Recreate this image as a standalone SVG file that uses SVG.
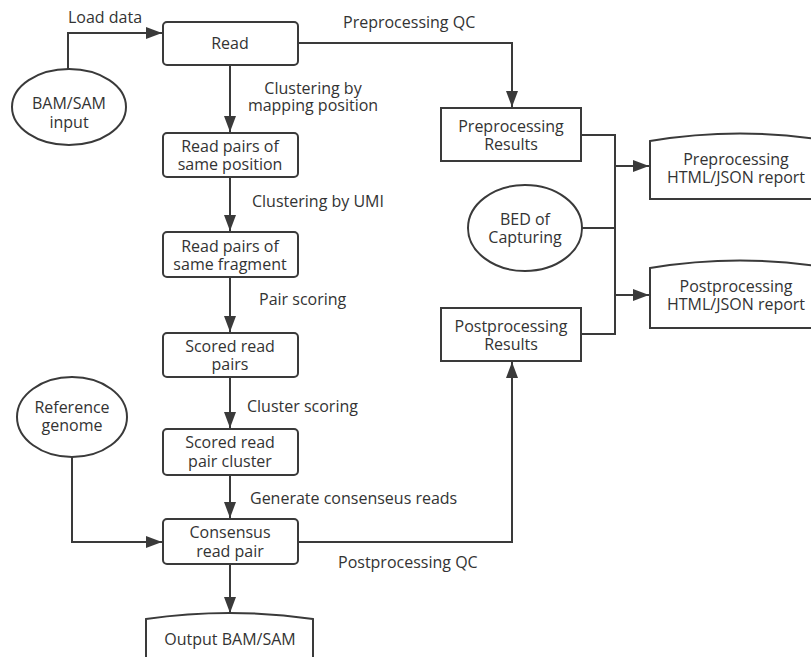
<svg xmlns="http://www.w3.org/2000/svg" width="811" height="657" viewBox="0 0 811 657">
  <defs>
    <style>
      .box { fill: #ffffff; stroke: #3a3a3a; stroke-width: 2; }
      .line { fill: none; stroke: #3a3a3a; stroke-width: 2; }
      .arrow { marker-end: url(#head); }
      text { font-family: "Open Sans", "Noto Sans", "Liberation Sans", sans-serif; font-size: 16px; fill: #333333; }
      .c { text-anchor: middle; }
    </style>
    <marker id="head" markerUnits="userSpaceOnUse" markerWidth="17" markerHeight="12" refX="16" refY="6" orient="auto">
      <path d="M0,0 L16,6 L0,12 z" fill="#3a3a3a"/>
    </marker>
  </defs>
  <rect width="811" height="657" fill="#ffffff"/>

  <!-- connectors and their labels -->
  <g id="connectors">
    <path class="line arrow" d="M68,69 V33 H162"/>
    <path class="line arrow" d="M230,65 V132"/>
    <path class="line arrow" d="M298,43 H512 V107"/>
    <path class="line arrow" d="M230,177 V231"/>
    <path class="line arrow" d="M230,277 V332"/>
    <path class="line arrow" d="M230,377 V428"/>
    <path class="line arrow" d="M230,475 V518"/>
    <path class="line arrow" d="M230,564 V613"/>
    <path class="line arrow" d="M72,457 V542 H162"/>
    <path class="line arrow" d="M298,542 H512 V362"/>
    <path class="line" d="M581,135 H615 V334 H581"/>
    <path class="line" d="M582,228 H615"/>
    <path class="line arrow" d="M615,166 H649"/>
    <path class="line arrow" d="M615,295 H649"/>
    <text x="68" y="23">Load data</text>
    <text x="343" y="28">Preprocessing QC</text>
    <text class="c" x="313" y="94">Clustering by</text>
    <text class="c" x="313" y="111">mapping position</text>
    <text x="252" y="207">Clustering by UMI</text>
    <text x="259" y="305">Pair scoring</text>
    <text x="247" y="412">Cluster scoring</text>
    <text x="250" y="504">Generate consenseus reads</text>
    <text x="338" y="568">Postprocessing QC</text>
  </g>

  <g id="bam-input">
    <ellipse class="box" cx="69" cy="107" rx="57" ry="38"/>
    <text class="c" x="69" y="109">BAM/SAM</text>
    <text class="c" x="69" y="128">input</text>
  </g>
  <g id="read">
    <rect class="box" x="163" y="22" width="135" height="43" rx="4"/>
    <text class="c" x="230" y="49">Read</text>
  </g>
  <g id="pairs-position">
    <rect class="box" x="163" y="133" width="135" height="44" rx="4"/>
    <text class="c" x="230" y="152">Read pairs of</text>
    <text class="c" x="230" y="170">same position</text>
  </g>
  <g id="pairs-fragment">
    <rect class="box" x="163" y="232" width="135" height="45" rx="4"/>
    <text class="c" x="230" y="252">Read pairs of</text>
    <text class="c" x="230" y="270">same fragment</text>
  </g>
  <g id="scored-pairs">
    <rect class="box" x="163" y="333" width="135" height="44" rx="4"/>
    <text class="c" x="230" y="352">Scored read</text>
    <text class="c" x="230" y="370">pairs</text>
  </g>
  <g id="scored-cluster">
    <rect class="box" x="163" y="429" width="135" height="46" rx="4"/>
    <text class="c" x="230" y="448">Scored read</text>
    <text class="c" x="230" y="467">pair cluster</text>
  </g>
  <g id="consensus">
    <rect class="box" x="163" y="519" width="135" height="45" rx="4"/>
    <text class="c" x="230" y="538">Consensus</text>
    <text class="c" x="230" y="557">read pair</text>
  </g>
  <g id="output">
    <path class="box" d="M146,670 V619 Q229.5,607 313,619 V670"/>
    <text class="c" x="230" y="645">Output BAM/SAM</text>
  </g>
  <g id="reference">
    <ellipse class="box" cx="72" cy="417" rx="55" ry="40"/>
    <text class="c" x="72" y="413">Reference</text>
    <text class="c" x="72" y="431">genome</text>
  </g>
  <g id="pre-results">
    <rect class="box" x="441" y="108" width="140" height="53"/>
    <text class="c" x="511" y="132">Preprocessing</text>
    <text class="c" x="511" y="150">Results</text>
  </g>
  <g id="bed">
    <ellipse class="box" cx="525" cy="228" rx="57" ry="43"/>
    <text class="c" x="525" y="225">BED of</text>
    <text class="c" x="525" y="243">Capturing</text>
  </g>
  <g id="post-results">
    <rect class="box" x="441" y="308" width="140" height="53"/>
    <text class="c" x="511" y="332">Postprocessing</text>
    <text class="c" x="511" y="350">Results</text>
  </g>
  <g id="pre-report">
    <path class="box" d="M830,199 H650 V141 Q740,126 830,141"/>
    <text class="c" x="736" y="165">Preprocessing</text>
    <text class="c" x="736" y="183">HTML/JSON report</text>
  </g>
  <g id="post-report">
    <path class="box" d="M830,328 H650 V268 Q740,253 830,268"/>
    <text class="c" x="736" y="292">Postprocessing</text>
    <text class="c" x="736" y="310">HTML/JSON report</text>
  </g>
</svg>
